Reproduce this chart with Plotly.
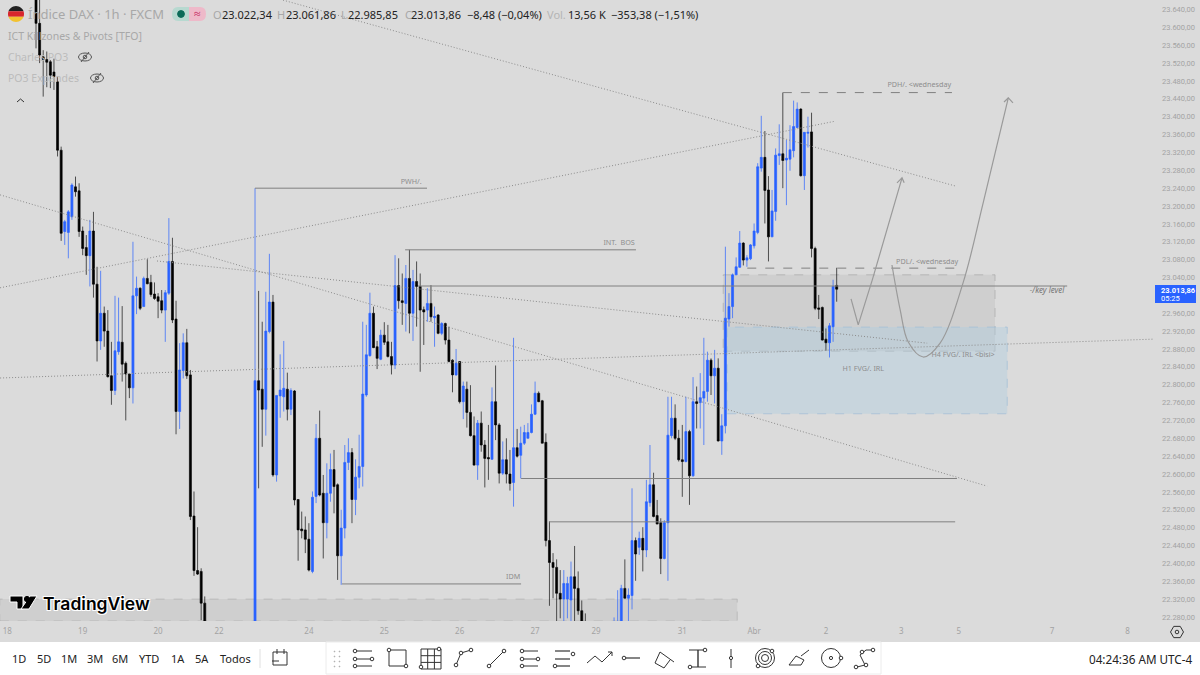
"""
DAX 1h chart with the ICT markup, rebuilt as a plotly candlestick figure
"""

import numpy as np
import plotly.graph_objs as go

# bar numbers that are on screen, the bars in between sit below the visible price range
bars = [*range(9, 57), *range(70, 163), *range(170, 233)]

opens = [
    23699, 23609, 23534, 23528, 23523, 23500, 23478, 23325, 23143, 23141, 23176, 23243,
    23234, 23144, 23107, 23089, 23144, 23025, 22898, 22960, 22920, 22820, 22787, 22874,
    22895, 22848, 22824, 22793, 22999, 23016, 22975, 23038, 23029, 23003, 22997, 22988,
    22967, 23005, 23076, 22947, 22740, 22832, 22894, 22822, 22506, 22384, 22382, 22311,
    22200, 22809, 22790, 22745, 22919, 22985, 22598, 22775, 22773, 22790, 22745, 22786,
    22543, 22477, 22475, 22454, 22382, 22550, 22680, 22557, 22491, 22557, 22610, 22576,
    22417, 22479, 22626, 22648, 22543, 22593, 22617, 22777, 22865, 22960, 22885, 22857,
    22911, 22896, 22863, 22844, 23022, 22988, 22982, 23038, 22960, 23031, 23020, 22968,
    22967, 22982, 22950, 22956, 22915, 22937, 22900, 22855, 22822, 22852, 22762, 22790,
    22738, 22686, 22620, 22714, 22665, 22637, 22633, 22762, 22710, 22602, 22632, 22600,
    22581, 22659, 22642, 22669, 22680, 22693, 22734, 22781, 22764, 22671, 22451, 22402,
    22391, 22333, 22320, 22320, 22318, 22370, 22344, 22294, 22262,
    22200, 22230, 22265, 22344, 22322, 22328, 22451, 22436, 22456, 22430, 22536, 22576,
    22507, 22491, 22411, 22491, 22686, 22725, 22680, 22632, 22628, 22695, 22596, 22762,
    22760, 22770, 22785, 22855, 22820, 22837, 22674, 22708, 22947, 22975, 23046, 23063,
    23117, 23079, 23082, 23111, 23141, 23285, 23309, 23236, 23131, 23188, 23313, 23317,
    23303, 23305, 23324, 23376, 23417, 23268, 23363, 23366, 23105, 22972, 22973, 22902,
    22894, 22930, 23022.34,
]
highs = [
    23730, 23676, 23549, 23546, 23527, 23530, 23490, 23333, 23169, 23191, 23251, 23266,
    23251, 23154, 23135, 23169, 23187, 23064, 23055, 22975, 22967, 22896, 22999, 22995,
    22976, 22852, 22826, 23120, 23042, 23018, 23042, 23081, 23046, 23029, 23005, 23012,
    23012, 23173, 23129, 22988, 22893, 22915, 22925, 22833, 22561, 22481, 22389, 22326,
    23240, 23010, 22941, 23008, 23093, 23001, 22776, 22868, 22898, 22827, 22792, 22788,
    22543, 22516, 22505, 22490, 22561, 22712, 22742, 22598, 22624, 22646, 22654, 22579,
    22520, 22665, 22680, 22658, 22633, 22688, 22941, 22934, 23006, 22975, 22898, 22923,
    22940, 22934, 22896, 23090, 23083, 23049, 23068, 23102, 23057, 23076, 23049, 22975,
    23016, 23023, 22975, 22958, 22940, 22939, 22930, 22857, 22880, 22853, 22807, 22807,
    22799, 22729, 22721, 22740, 22676, 22710, 22794, 22843, 22714, 22673, 22680, 22654,
    22905, 22701, 22706, 22710, 22714, 22756, 22807, 22785, 22766, 22691, 22494, 22423,
    22409, 22385, 22385, 22370, 22404, 22439, 22382, 22317, 22288,
    22279, 22340, 22352, 22409, 22344, 22568, 22458, 22471, 22481, 22587, 22665, 22603,
    22542, 22501, 22497, 22773, 22773, 22756, 22699, 22710, 22773, 22699, 22817, 22796,
    22826, 22905, 22874, 22859, 22878, 22859, 22734, 23109, 23005, 23049, 23085, 23144,
    23119, 23090, 23115, 23161, 23296, 23402, 23368, 23267, 23236, 23329, 23383, 23454,
    23348, 23381, 23436, 23432, 23419, 23365, 23400, 23409, 23109, 23001, 22975, 22926,
    22938, 23035, 23061.86,
]
lows = [
    23553, 23520, 23445, 23466, 23464, 23460, 23311, 23122, 23113, 23083, 23169, 23221,
    23131, 23090, 23046, 23020, 22995, 22852, 22878, 22885, 22816, 22755, 22777, 22867,
    22807, 22720, 22770, 22758, 22958, 22967, 22975, 23025, 22997, 22990, 22949, 22960,
    22896, 23001, 22938, 22689, 22701, 22814, 22813, 22497, 22372, 22374, 22273, 22240,
    22150, 22568, 22661, 22686, 22915, 22594, 22583, 22726, 22740, 22720, 22732, 22530,
    22406, 22456, 22423, 22382, 22378, 22535, 22550, 22411, 22456, 22538, 22512, 22363,
    22352, 22456, 22609, 22490, 22508, 22568, 22572, 22773, 22863, 22882, 22835, 22855,
    22889, 22861, 22823, 22835, 22970, 22934, 22919, 22915, 22898, 22930, 22829, 22889,
    22941, 22941, 22885, 22913, 22911, 22890, 22850, 22783, 22820, 22758, 22723, 22704,
    22684, 22619, 22587, 22650, 22570, 22587, 22632, 22676, 22579, 22598, 22579, 22563,
    22527, 22637, 22590, 22665, 22680, 22691, 22732, 22761, 22669, 22438, 22305, 22322,
    22270, 22277, 22265, 22277, 22265, 22270, 22285, 22250, 22220,
    22180, 22200, 22240, 22322, 22260, 22297, 22361, 22419, 22382, 22414, 22527, 22503,
    22488, 22376, 22409, 22361, 22680, 22676, 22628, 22549, 22626, 22531, 22594, 22702,
    22702, 22665, 22762, 22777, 22758, 22673, 22643, 22691, 22930, 22949, 23046, 23062,
    23067, 23064, 23079, 23105, 23137, 23277, 23161, 23076, 23131, 23167, 23292, 23240,
    23202, 23279, 23309, 23374, 23266, 23236, 23331, 23085, 22967, 22947, 22899, 22876,
    22861, 22896, 22985.85,
]
closes = [
    23609, 23538, 23528, 23522, 23493, 23490, 23325, 23139, 23165, 23187, 23247, 23232,
    23143, 23105, 23089, 23144, 23025, 22898, 22960, 22920, 22818, 22787, 22876, 22896,
    22846, 22824, 22793, 22999, 23016, 22971, 23038, 23026, 23002, 22993, 22987, 22967,
    23006, 23076, 22945, 22740, 22833, 22894, 22820, 22505, 22384, 22376, 22311, 22265,
    22809, 22788, 22745, 22920, 22985, 22598, 22776, 22788, 22792, 22745, 22787, 22542,
    22475, 22473, 22454, 22385, 22548, 22680, 22553, 22491, 22557, 22610, 22572, 22417,
    22479, 22626, 22648, 22543, 22593, 22617, 22779, 22867, 22960, 22883, 22859, 22911,
    22895, 22863, 22844, 23022, 22988, 22984, 23038, 22960, 23031, 23020, 22967, 22963,
    22982, 22952, 22953, 22915, 22937, 22900, 22852, 22822, 22848, 22762, 22797, 22738,
    22686, 22620, 22714, 22665, 22635, 22634, 22762, 22710, 22602, 22632, 22600, 22579,
    22659, 22640, 22669, 22693, 22693, 22734, 22781, 22762, 22669, 22451, 22402, 22391,
    22333, 22320, 22355, 22355, 22370, 22344, 22294, 22262, 22230,
    22250, 22265, 22344, 22322, 22329, 22451, 22421, 22456, 22430, 22538, 22576, 22505,
    22488, 22411, 22491, 22687, 22725, 22680, 22632, 22628, 22695, 22596, 22762, 22758,
    22771, 22785, 22855, 22820, 22837, 22674, 22708, 22949, 22975, 23046, 23064, 23117,
    23079, 23084, 23113, 23144, 23288, 23309, 23235, 23131, 23189, 23314, 23317, 23302,
    23307, 23326, 23378, 23417, 23268, 23365, 23365, 23105, 22971, 22969, 22900, 22894,
    22932, 23020, 23013.86,
]

day_ticks = [1, 22, 43, 60, 85, 106, 127, 148, 165, 189, 209, 229, 250, 266, 292, 313]
day_labels = ["18", "19", "20", "22", "24", "25", "26", "27", "29", "31", "Abr", "2", "3", "5", "7", "8"]
# 23.000 is hidden behind the last price tag in the original
price_ticks = [p for p in range(22280, 23641, 40) if p != 23000]

# dotted trend lines, (bar, price) at both ends
trend_bars = [(77.8, 265), (-1, 231.6), (-1, 273.9), (42.7, 257.2), (-1, 320.1)]
trend_prices = [(23661, 23245), (23017, 23390), (23225, 22573), (23077, 22893), (22815, 22902)]

# level name, first bar, last bar, price, dash
levels = [
    ("PWH", 70, 117.9, 23240, "solid"),
    ("INT BOS", 111.8, 176.1, 23102, "solid"),
    ("key level", 115.4, 296.2, 23021, "solid"),
    ("IDM", 94.2, 144.1, 22354, "solid"),
    ("low 1", 144.1, 265.5, 22590, "solid"),
    ("low 2", 151.9, 265, 22493, "solid"),
    ("PDH", 217, 264.1, 23454, "dash"),
    ("PDL", 207.1, 265, 23061, "dash"),
]

# text, bar, price
level_texts = [
    ("PWH/.", 113.5, 23254), ("INT.  BOS", 171.4, 23117), ("IDM", 141.9, 22370),
    ("PDH/. &lt;wednesday", 255, 23471), ("PDL/. &lt;wednesday", 257.2, 23075),
    ("H1 FVG/. IRL", 239.4, 22835), ("H4 FVG/. IRL &lt;bisi&gt;", 267.2, 22867),
]

# projected paths
path1_bars = [236, 238, 241.9, 245.5, 250.2]
path1_prices = [22992, 22934, 23034, 23135, 23263]
head1_bars = [248.8, 250.2, 250.8]
head1_prices = [23252, 23263, 23252]
path2_bars = [247.4, 249.7, 251.9, 256.1, 260.8, 267.2, 272.8, 279.8]
path2_prices = [23068, 22967, 22896, 22862, 22893, 23028, 23207, 23442]
head2_bars = [278.6, 279.8, 281.1]
head2_prices = [23433, 23442, 23431]

# zones: first bar, last bar, bottom, top, fill, border
zones = [
    (-1.1, 204.3, 22271, 22320, "rgba(190,190,190,0.4)", "rgba(170,170,170,0.6)"),
    (200.4, 276.1, 22875, 23046, "rgba(185,185,185,0.32)", "rgba(170,170,170,0.7)"),
    (201.5, 279.5, 22735, 22929, "rgba(175,205,225,0.42)", "rgba(160,190,215,0.7)"),
]

BG = "#dbdbdb"
BLUE = "#2962ff"
GREY = "#a3a3a3"
W_PLOT = 1153
H_PLOT = 621


def px(x):
    return x / W_PLOT


def py(y):
    return 1 - y / H_PLOT


shapes = []
annots = []


def seg(x0, y0, x1, y1, color="#333333", width=1):
    shapes.append(dict(type="line", xref="paper", yref="paper", x0=px(x0), x1=px(x1), y0=py(y0), y1=py(y1),
                       line=dict(color=color, width=width), layer="above"))


def box(x0, y0, x1, y1, fill="rgba(0,0,0,0)", color="#333333", width=1):
    shapes.append(dict(type="rect", xref="paper", yref="paper", x0=px(x0), x1=px(x1), y0=py(y0), y1=py(y1),
                       fillcolor=fill, line=dict(color=color, width=width), layer="above"))


def dot(x, y, r=2.2, fill="white", color="#333333"):
    shapes.append(dict(type="circle", xref="paper", yref="paper", x0=px(x - r), x1=px(x + r), y0=py(y - r), y1=py(y + r),
                       fillcolor=fill, line=dict(color=color, width=1), layer="above"))


def label(text, x, y, size=11, color="#222222", anchor="left", font="Noto Sans", **kw):
    annots.append(dict(text=text, x=px(x), y=py(y), xref="paper", yref="paper", showarrow=False, xanchor=anchor,
                       yanchor="middle", font=dict(size=size, color=color, family=font, **kw), borderpad=0, borderwidth=0))


def flag_band(cx, cy, r, y0, y1, color):
    # slice of the round flag between two heights
    ys = np.linspace(y0, y1, 12)
    left = [(cx - np.sqrt(max(r * r - (v - cy) ** 2, 0)), v) for v in ys]
    right = [(cx + np.sqrt(max(r * r - (v - cy) ** 2, 0)), v) for v in ys[::-1]]
    pts = left + right
    path = "M" + " L".join(f"{px(a):.5f},{py(b):.5f}" for a, b in pts) + " Z"
    shapes.append(dict(type="path", xref="paper", yref="paper", path=path, fillcolor=color, line=dict(width=0), layer="above"))


def eye(cx, cy):
    shapes.append(dict(type="circle", xref="paper", yref="paper", x0=px(cx - 6.5), x1=px(cx + 6.5), y0=py(cy - 4), y1=py(cy + 4),
                       line=dict(color="#555555", width=1), layer="above"))
    seg(cx - 4, cy + 5, cx + 4, cy - 5, "#555555", 1)
    dot(cx, cy, 1.8, "rgba(0,0,0,0)", "#555555")


fig = go.Figure()

for (start, end, bottom, top, fill, border) in zones:
    fig.add_shape(type="rect", x0=start, x1=end, y0=bottom, y1=top, fillcolor=fill,
                  line=dict(color=border, width=1, dash="dash"), layer="below")

for tb, tp in zip(trend_bars, trend_prices):
    fig.add_trace(go.Scatter(x=list(tb), y=list(tp), mode="lines", line=dict(color="#8c8c8c", width=1, dash="1px,2px"),
                             hoverinfo="skip", showlegend=False))

for name, start, end, price, dash in levels:
    fig.add_trace(go.Scatter(x=[start, end], y=[price, price], mode="lines", name=name,
                             line=dict(color="#808080", width=1, dash="dash" if dash == "dash" else "solid"),
                             hoverinfo="skip", showlegend=False))

fig.add_trace(go.Candlestick(
    x=bars, open=opens, high=highs, low=lows, close=closes,
    increasing=dict(line=dict(color="rgba(41,98,255,0.7)", width=1), fillcolor=BLUE),
    decreasing=dict(line=dict(color="rgba(0,0,0,0.65)", width=1), fillcolor="#000000"),
    whiskerwidth=0, showlegend=False,
))

for xs, ys in [(path1_bars, path1_prices), (head1_bars, head1_prices), (head2_bars, head2_prices)]:
    fig.add_trace(go.Scatter(x=xs, y=ys, mode="lines", line=dict(color="#9a9a9a", width=1.2),
                             hoverinfo="skip", showlegend=False))
fig.add_trace(go.Scatter(x=path2_bars, y=path2_prices, mode="lines", line=dict(color="#9a9a9a", width=1.2, shape="spline"),
                         hoverinfo="skip", showlegend=False))

fig.add_trace(go.Scatter(x=[t[1] for t in level_texts], y=[t[2] for t in level_texts],
                         text=[t[0] for t in level_texts], mode="text",
                         textfont=dict(size=7.2, color="#8d8d8d", family="Noto Sans"),
                         hoverinfo="skip", showlegend=False))
fig.add_trace(go.Scatter(x=[290.6], y=[23010], text=["<i>-/key level</i>"], mode="text",
                         textfont=dict(size=8, color="#777777", family="Noto Sans"),
                         hoverinfo="skip", showlegend=False))

# header
flag_band(16, 14, 8, 6, 11.3, "#222222")
flag_band(16, 14, 8, 11.3, 16.7, "#d8262c")
flag_band(16, 14, 8, 16.7, 22, "#f2c230")
label("Índice DAX · 1h · FXCM", 28, 14.5, 13, "#a8a8a8")
shapes.append(dict(type="path", xref="paper", yref="paper", layer="above", fillcolor="#b7d9d0", line=dict(width=0),
                   path=f"M{px(189)},{py(7)} L{px(178)},{py(7)} Q{px(172)},{py(7)} {px(172)},{py(14)} Q{px(172)},{py(21)} {px(178)},{py(21)} L{px(189)},{py(21)} Z"))
shapes.append(dict(type="path", xref="paper", yref="paper", layer="above", fillcolor="#eeb9c9", line=dict(width=0),
                   path=f"M{px(189)},{py(7)} L{px(200)},{py(7)} Q{px(206)},{py(7)} {px(206)},{py(14)} Q{px(206)},{py(21)} {px(200)},{py(21)} L{px(189)},{py(21)} Z"))
dot(181, 14, 3.4, "#0b6b58", "#0b6b58")
label("≈", 197, 14, 12, "#c2185b", "center")
label("O", 213, 14.5, 11, "#a8a8a8")
label("23.022,34", 222, 14.5, 11)
label("H", 277, 14.5, 11, "#a8a8a8")
label("23.061,86", 286, 14.5, 11)
label("L", 341, 14.5, 11, "#a8a8a8")
label("22.985,85", 348, 14.5, 11)
label("C", 405, 14.5, 11, "#a8a8a8")
label("23.013,86", 411, 14.5, 11)
label("−8,48 (−0,04%)", 467, 14.5, 11)
label("Vol.", 547, 14.5, 11, "#b5b5b5")
label("13,56 K", 568, 14.5, 11)
label("−353,38 (−1,51%)", 611, 14.5, 11)
label("ICT Killzones &amp; Pivots [TFO]", 8, 35.5, 10.5, "#a8a8a8")
label("Charles PO3", 8, 57, 10.5, "#bcbcbc")
eye(85, 57)
label("PO3 Expandes", 8, 78, 10.5, "#bcbcbc")
eye(97, 78)
seg(17, 102, 20.5, 99, "#333333", 1)
seg(20.5, 99, 24, 102, "#333333", 1)

# tradingview mark
shapes.append(dict(type="path", xref="paper", yref="paper", layer="above", fillcolor="#000000", line=dict(color="white", width=1),
                   path=f"M{px(10)},{py(596)} L{px(23)},{py(596)} L{px(23)},{py(609)} L{px(17)},{py(609)} L{px(17)},{py(602)} L{px(10)},{py(602)} Z"))
shapes.append(dict(type="path", xref="paper", yref="paper", layer="above", fillcolor="#000000", line=dict(color="white", width=1),
                   path=f"M{px(30)},{py(596)} L{px(37)},{py(596)} L{px(29)},{py(609)} L{px(21)},{py(609)} Z"))
dot(27, 599, 2.6, "#000000", "#000000")
label("TradingView", 43, 603, 17.5, "#000000", font="Inter", weight=600,
      shadow="1px 1px 0 white, -1px -1px 0 white, 1px -1px 0 white, -1px 1px 0 white")

# price tag
box(1155, 285, 1196, 303, BLUE, BLUE, 0)
label("<b>23.013,86</b>", 1161, 290, 7.5, "#ffffff", font="Roboto")
label("05:25", 1161, 298, 7.5, "#ffffff", font="Roboto")

# settings hexagon bottom right
shapes.append(dict(type="path", xref="paper", yref="paper", layer="above", line=dict(color="#333333", width=1),
                   path="M" + " L".join(f"{px(1177 + 6.5 * np.cos(a)):.5f},{py(632 + 6.5 * np.sin(a)):.5f}" for a in np.arange(6) * np.pi / 3) + " Z"))
dot(1177, 632, 1.8, "rgba(0,0,0,0)")

# bottom toolbar
box(0, 642, 1200, 676, "#ffffff", "#ffffff", 0)
box(326, 642, 881, 674, "#ffffff", "#ececec", 1)
for txt, x in [("1D", 19), ("5D", 44), ("1M", 69), ("3M", 95), ("6M", 120), ("YTD", 149), ("1A", 178), ("5A", 202), ("Todos", 235)]:
    label(txt, x, 658.5, 11, "#222222", "center")
seg(260, 649, 260, 668, "#e0e0e0")
box(273, 652, 287, 665)
seg(277, 649, 277, 654)
seg(284, 649, 284, 654)
seg(272, 661, 279, 661)
label("04:24:36 AM UTC-4", 1192, 658.5, 11.7, "#222222", "right")

for y in (652, 657, 662, 667):
    dot(334.5, y - 0.5, 0.4, "#aaaaaa", "#aaaaaa")
    dot(339.5, y - 0.5, 0.4, "#aaaaaa", "#aaaaaa")
# line tools
for y in (651, 659, 666):
    seg(355, y, 372, y)
    dot(355, y, 1.8)
dot(372, 659, 1.8)
box(389, 650, 406, 666)
dot(389, 650, 1.8)
dot(406, 666, 1.8)
box(421, 649, 441, 669)
seg(427.7, 649, 427.7, 669)
seg(434.4, 649, 434.4, 669)
seg(421, 655.7, 441, 655.7)
seg(421, 662.4, 441, 662.4)
dot(439, 649, 1.8)
dot(421, 667, 1.8)
seg(456, 665, 461, 653)
seg(461, 653, 471, 650)
dot(456, 665, 1.8)
dot(461, 653, 1.8)
dot(471, 650, 1.8)
seg(489, 666, 504, 651)
dot(489, 666, 1.8)
dot(504, 651, 1.8)
for y, x2 in [(651, 538), (659, 538), (666, 538)]:
    seg(522, y, x2, y)
    dot(522, y, 1.8)
dot(538, 659, 1.8)
for y, x2 in [(651, 570), (659, 570), (666, 570)]:
    seg(555, y, x2, y, width=1.2)
dot(573, 654, 1.8)
dot(555, 666, 1.8)
seg(587, 663, 595, 656)
seg(595, 656, 602, 662)
seg(602, 662, 612, 652)
seg(608, 652, 612, 652)
seg(612, 652, 612, 656)
dot(624, 658, 1.8)
seg(626, 658, 640, 658, width=1.2)
seg(655, 663, 660, 652)
seg(660, 652, 674, 662)
seg(655, 663, 664, 668)
seg(664, 668, 670, 660)
seg(689, 650, 706, 650)
seg(689, 667, 706, 667)
seg(698, 650, 698, 667, width=1.4)
dot(705, 650, 1.8)
dot(690, 667, 1.8)
seg(731, 649, 731, 668)
dot(731, 658, 1.6)
for r in (9.5, 6.5, 3.5):
    dot(765, 658, r, "rgba(0,0,0,0)")
dot(772, 651, 1.8)
dot(758, 666, 1.8)
seg(789, 665, 796, 656)
seg(796, 656, 804, 660)
seg(789, 665, 801, 665)
seg(801, 665, 804, 660)
seg(801, 656, 809, 650)
dot(831, 658, 9.5, "rgba(0,0,0,0)")
dot(831, 658, 1.6)
dot(841, 658, 1.8)
seg(857, 667, 865, 665)
seg(865, 665, 860, 655)
seg(860, 655, 866, 650)
seg(866, 650, 872, 650)
dot(856, 667, 1.8)
dot(866, 665, 1.8)
dot(862, 652, 1.8)
dot(873, 650, 1.8)

fig.update_layout(
    width=1200, height=675, autosize=False,
    margin=dict(l=0, r=47, t=0, b=54),
    paper_bgcolor=BG, plot_bgcolor=BG,
    separators=",.",
    showlegend=False,
    boxgap=0.2,
    shapes=list(fig.layout.shapes) + shapes,
    annotations=annots,
    xaxis=dict(range=[-1.03, 320.1], showgrid=False, zeroline=False, showline=False, rangeslider=dict(visible=False),
               tickmode="array", tickvals=day_ticks, ticktext=day_labels, ticks="", ticklabelstandoff=4,
               tickfont=dict(size=8, color=GREY, family="Noto Sans")),
    yaxis=dict(range=[22271, 23661.3], side="right", showgrid=False, zeroline=False, showline=False, ticks="",
               tickmode="array", tickvals=price_ticks, tickformat=",.2f", ticklabelstandoff=8,
               tickfont=dict(size=7.5, color=GREY, family="Roboto")),
)

fig.write_html("out.html", config=dict(displayModeBar=False),
               post_script="document.body.style.margin='0';document.body.style.background='#ffffff';")
